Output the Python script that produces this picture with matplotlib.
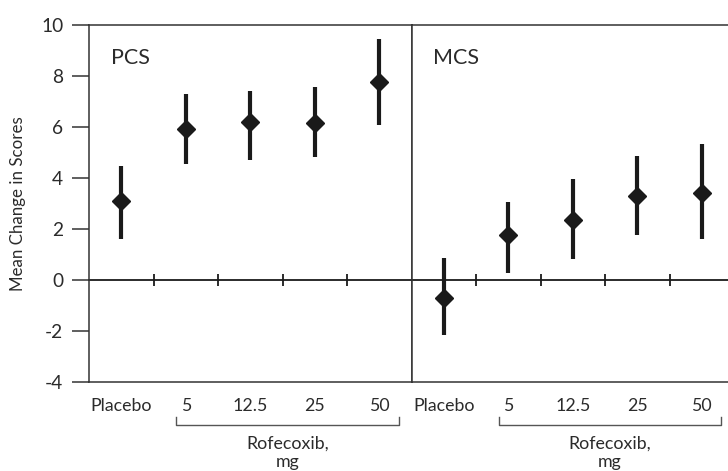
import matplotlib
matplotlib.use("Agg")
import matplotlib.pyplot as plt
import matplotlib.transforms as mtransforms

plt.rcParams["font.family"] = ["Lato", "DejaVu Sans"]

CATEGORIES = ["Placebo", "5", "12.5", "25", "50"]
PANELS = ["PCS", "MCS"]

PCS_MEAN = [3.1, 5.9, 6.2, 6.15, 7.75]
PCS_LOW = [1.6, 4.55, 4.72, 4.8, 6.08]
PCS_HIGH = [4.48, 7.28, 7.42, 7.58, 9.45]

MCS_MEAN = [-0.7, 1.77, 2.36, 3.28, 3.41]
MCS_LOW = [-2.18, 0.26, 0.81, 1.77, 1.62]
MCS_HIGH = [0.87, 3.06, 3.95, 4.85, 5.31]

Y_TICKS = [-4, -2, 0, 2, 4, 6, 8, 10]

INK = "#1a1a1a"
TEXT = "#2b2b2b"
FS = 12.8

W, H = 728, 471
fig = plt.figure(figsize=(W / 100, H / 100), dpi=100)

left0, bottom_px, top_px, panel_w = 89, 381.7, 25, 322.5
ax_h = (bottom_px - top_px) / H
ax_b = (H - bottom_px) / H
ax1 = fig.add_axes([left0 / W, ax_b, panel_w / W, ax_h])
ax2 = fig.add_axes([(left0 + panel_w) / W, ax_b, panel_w / W, ax_h])

series = [(PCS_MEAN, PCS_LOW, PCS_HIGH), (MCS_MEAN, MCS_LOW, MCS_HIGH)]
xs = list(range(len(CATEGORIES)))

for i, (ax, name, (mean, low, high)) in enumerate(zip([ax1, ax2], PANELS, series)):
    ax.set_xlim(-0.5, len(CATEGORIES) - 0.5)
    ax.set_ylim(-4, 10)

    ax.axhline(0, color=INK, linewidth=1.3, zorder=1, clip_on=False)
    ax.plot([x + 0.5 for x in xs[:-1]], [0] * (len(xs) - 1), linestyle="none",
            marker="|", markersize=8, markeredgewidth=1.3, color=INK, zorder=1)

    ax.vlines(xs, low, high, color=INK, linewidth=3, zorder=2)
    ax.plot(xs, mean, linestyle="none", marker="D", markersize=9.5,
            color=INK, zorder=3)

    ax.set_xticks(xs)
    ax.set_xticklabels(CATEGORIES, fontsize=FS, color=TEXT)
    ax.tick_params(axis="x", length=0, pad=12)

    for side in ["top", "bottom", "left", "right"]:
        ax.spines[side].set_color("#333333")
        ax.spines[side].set_linewidth(1.1)

    if i == 0:
        ax.set_yticks(Y_TICKS)
        ax.set_yticklabels([str(t) for t in Y_TICKS], fontsize=13.8, color=TEXT)
        ax.tick_params(axis="y", direction="out", length=12, width=1.1,
                       color="#333333", pad=6.5)
        ax.set_ylabel("Mean Change in Scores", fontsize=12.2, color=TEXT)
        ax.yaxis.set_label_coords(-(left0 - 26) / panel_w, 0.5)
    else:
        ax.set_yticks([])
        ax.spines["right"].set_visible(False)

    ax.text(0.068, 0.907, name, transform=ax.transAxes, fontsize=15.5,
            color=TEXT, ha="left", va="center")

    # bracket under the rofecoxib doses
    trans = mtransforms.blended_transform_factory(ax.transData, ax.transAxes)
    bx0, bx1 = 0.85, 4.3
    ax.plot([bx0, bx0, bx1, bx1], [-0.099, -0.121, -0.121, -0.099],
            transform=trans, color="#555555", linewidth=1, clip_on=False)
    ax.text((bx0 + bx1) / 2, -0.15, "Rofecoxib,\nmg", transform=trans,
            ha="center", va="top", fontsize=FS, color=TEXT, linespacing=1.2)

fig.savefig("out.png", dpi=100)
